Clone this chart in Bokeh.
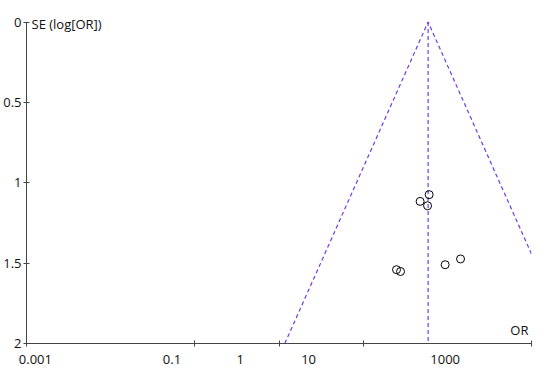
import numpy as np
from bokeh.plotting import figure
from bokeh.models import Range1d, LogAxis, LogScale, FixedTicker, Label
from bokeh.embed import file_html
from bokeh.resources import INLINE

# ---- data ----
study_or = [60.8, 47.5, 58.2, 143.5, 94.2, 24.9, 27.8]
study_se = [1.074, 1.116, 1.143, 1.474, 1.510, 1.541, 1.552]
pooled_or = 59.1
funnel_se = [2.0, 0.0, 2.0]
funnel_side = [-1, 0, 1]
x_tick_values = [0.001, 0.1, 1, 10, 1000]
x_tick_labels = ["0.001", "0.1", "1", "10", "1000"]
y_tick_values = [0.0, 0.5, 1.0, 1.5, 2.0]
y_tick_labels = ["0", "0.5", "1", "1.5", "2"]

FONT = "Open Sans"
TXT = "#111111"
AX = "#444444"
FUNNEL = "#6c3ce6"

p = figure(width=540, height=373, x_axis_type="log",
           x_range=Range1d(0.001, 1000), y_range=Range1d(2, -0.084),
           output_backend="svg", toolbar_location=None, title=None,
           min_border_left=26, min_border_right=9,
           min_border_top=8, min_border_bottom=30)
p.outline_line_color = None
p.xgrid.visible = False
p.ygrid.visible = False
p.background_fill_color = "white"
p.border_fill_color = "white"

# main x axis: tick marks only
xa = p.xaxis[0]
xa.ticker = FixedTicker(ticks=x_tick_values)
xa.major_label_text_font_size = "1px"
xa.major_label_text_color = None
xa.major_label_standoff = 0
xa.major_tick_in = 3
xa.major_tick_out = 3
xa.minor_tick_line_color = None
xa.axis_line_color = AX
xa.major_tick_line_color = AX

# label axis (labels drawn in their own, compressed log scale as in the reference)
p.extra_x_ranges = {"lab": Range1d(10 ** -3.13, 10 ** 4.264)}
p.extra_x_scales = {"lab": LogScale()}
lab_axis = LogAxis(x_range_name="lab", ticker=FixedTicker(ticks=x_tick_values),
                   major_label_overrides=dict(zip(x_tick_values, x_tick_labels)))
lab_axis.axis_line_color = None
lab_axis.major_tick_line_color = None
lab_axis.minor_tick_line_color = None
lab_axis.major_tick_in = 0
lab_axis.major_tick_out = 0
lab_axis.major_label_standoff = 8
lab_axis.major_label_text_font = FONT
lab_axis.major_label_text_font_size = "13px"
lab_axis.major_label_text_color = TXT
p.add_layout(lab_axis, "below")

# y axis
ya = p.yaxis[0]
ya.bounds = (0, 2)
ya.ticker = FixedTicker(ticks=y_tick_values)
ya.major_label_overrides = dict(zip(y_tick_values, y_tick_labels))
ya.major_tick_in = 3
ya.major_tick_out = 3
ya.minor_tick_line_color = None
ya.axis_line_color = AX
ya.major_tick_line_color = AX
ya.major_label_standoff = 2
ya.major_label_text_font = FONT
ya.major_label_text_font_size = "13px"
ya.major_label_text_color = TXT

# funnel (pseudo 95% confidence limits) and pooled line
funnel_x = [pooled_or * np.exp(s * 1.96 * se) for s, se in zip(funnel_side, funnel_se)]
p.line(funnel_x, funnel_se, line_color=FUNNEL, line_dash="4 3", line_width=1.2)
p.line([pooled_or, pooled_or], [0.0, 2.0], line_color=FUNNEL, line_dash="4 3", line_width=1.2)

# studies
p.scatter(study_or, study_se, size=8, marker="circle", fill_color=None,
          line_color="black", line_width=1)

# axis titles
p.add_layout(Label(x=0.001, y=0, text="SE (log[OR])", x_offset=5, y_offset=-2,
                   text_baseline="middle", text_font=FONT, text_font_size="13px",
                   text_color=TXT))
p.add_layout(Label(x=1000, y=2, text="OR", x_offset=-3, y_offset=5,
                   text_align="right", text_baseline="bottom", text_font=FONT,
                   text_font_size="13px", text_color=TXT))

open("out.html", "w").write(file_html(p, INLINE))
